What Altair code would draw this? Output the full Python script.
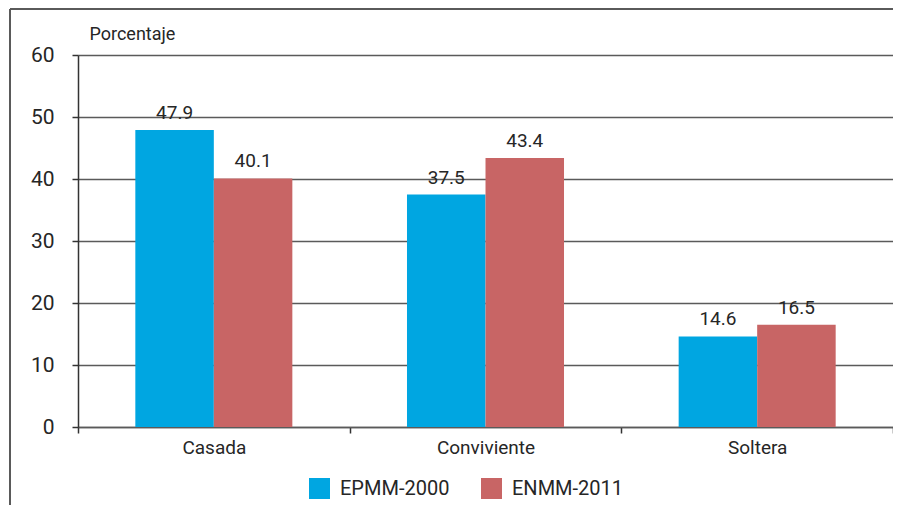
import altair as alt
import pandas as pd

categorias = ["Casada", "Conviviente", "Soltera"]
series = ["EPMM-2000", "ENMM-2011"]
epmm_2000 = [47.9, 37.5, 14.6]
enmm_2011 = [40.1, 43.4, 16.5]
y_ticks = [0, 10, 20, 30, 40, 50, 60]
colores = ["#00A6E1", "#C86565"]

rows = []
for i, c in enumerate(categorias):
    rows.append({"categoria": c, "serie": series[0], "valor": epmm_2000[i]})
    rows.append({"categoria": c, "serie": series[1], "valor": enmm_2011[i]})
df = pd.DataFrame(rows)

FONT = "Roboto, 'DejaVu Sans Condensed', sans-serif"
TXT = "#262626"
W, H = 815, 372

x_enc = alt.X(
    "categoria:N",
    sort=categorias,
    scale=alt.Scale(paddingInner=0, paddingOuter=0),
    axis=alt.Axis(
        title=None,
        tickBand="extent",
        labelAngle=0,
        labelFontSize=19,
        labelColor=TXT,
        labelPadding=5,
        tickSize=6,
        tickColor="#333333",
        tickWidth=1.5,
        domainColor="#5a5a5a",
        domainWidth=1.5,
    ),
)
xoff = alt.XOffset(
    "serie:N", sort=series, scale=alt.Scale(paddingInner=0, paddingOuter=0.73)
)
y_enc = alt.Y(
    "valor:Q",
    scale=alt.Scale(domain=[0, 60], nice=False),
    axis=alt.Axis(
        title="Porcentaje",
        titleAngle=0,
        titleAlign="left",
        titleBaseline="alphabetic",
        titleX=11,
        titleY=-16,
        titleFontSize=18,
        titleFontWeight="normal",
        titleColor=TXT,
        values=y_ticks,
        labelFontSize=21,
        labelColor=TXT,
        labelPadding=18,
        tickSize=6,
        tickColor="#333333",
        tickWidth=1.5,
        grid=True,
        gridColor="#5a5a5a",
        gridWidth=1.5,
        domainColor="#333333",
        domainWidth=1.5,
    ),
)

bars = alt.Chart(df).mark_bar(size=78.5).encode(
    x=x_enc,
    xOffset=xoff,
    y=y_enc,
    color=alt.Color(
        "serie:N",
        sort=series,
        scale=alt.Scale(domain=series, range=colores),
        legend=alt.Legend(
            title=None,
            orient="none",
            direction="horizontal",
            legendX=231,
            legendY=423,
            symbolType="square",
            symbolSize=441,
            symbolStrokeWidth=0,
            symbolOpacity=1,
            labelFontSize=20,
            labelColor=TXT,
            labelOffset=10,
            columnPadding=31,
            labelLimit=300,
            padding=0,
        ),
    ),
)

labels = alt.Chart(df).mark_text(
    fontSize=19, color=TXT, baseline="alphabetic", dy=-11
).encode(
    x=alt.X("categoria:N", sort=categorias),
    xOffset=alt.XOffset("serie:N", sort=series),
    y="valor:Q",
    text=alt.Text("valor:Q", format=".1f"),
)

frame_left = alt.Chart(df).mark_rule(color="#5a5a5a", strokeWidth=2).encode(
    x=alt.value(-68), y=alt.value(-46), y2=alt.value(H + 80)
)
frame_top = alt.Chart(df).mark_rule(color="#5a5a5a", strokeWidth=2).encode(
    x=alt.value(-68), x2=alt.value(W + 20), y=alt.value(-46)
)

chart = (
    alt.layer(bars, labels, frame_left, frame_top)
    .properties(
        width=W,
        height=H,
        autosize=alt.AutoSizeParams(type="none"),
        padding={"left": 70, "top": 47, "right": 0, "bottom": 78},
    )
    .configure(font=FONT)
    .configure_view(stroke=None)
)

chart.save("out.html", embed_options={"renderer": "svg", "actions": False})
